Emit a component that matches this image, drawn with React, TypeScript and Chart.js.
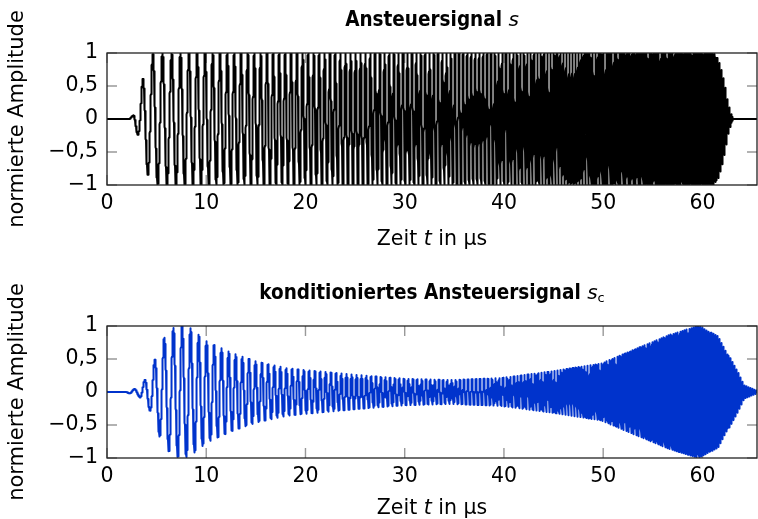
import React, { useEffect, useRef } from "react";
import { Chart, registerables } from "chart.js";

Chart.register(...registerables);

// ---- axis data ----
const X_MIN = 0;
const X_MAX = 65.5;
const xTickValues = [0, 10, 20, 30, 40, 50, 60];
const xTickLabels = ["0", "10", "20", "30", "40", "50", "60"];
const yTickValues = [-1, -0.5, 0, 0.5, 1];
const yTickLabels = ["\u22121", "\u22120,5", "0", "0,5", "1"];

// ---- chirp carrier: instantaneous frequency (MHz) read from cycle spacing ----
const freqTimes = [0, 3.5, 5.5, 9.4, 13, 17.4, 27.5, 37.7, 45, 52, 65.5];
const freqValues = [0.9, 0.95, 1.05, 1.25, 1.45, 1.65, 2.1, 2.5, 3.1, 3.9, 5.0];

// ---- top signal s: envelope ----
const topEnvTimes = [0, 2.2, 2.6, 3.2, 3.6, 4.2, 4.7, 61.2, 61.6, 62.0, 62.3, 62.6, 63.1, 65.5];
const topEnvValues = [0, 0, 0.05, 0.28, 0.6, 0.88, 1, 1, 0.89, 0.69, 0.49, 0.24, 0, 0];
const topPeakRef = 3.6; // time of a positive peak

// ---- bottom signal s_c: envelope ----
const botEnvTimes = [0, 1.8, 2.65, 3.25, 3.8, 4.3, 4.8, 5.2, 5.7, 6.7, 7.6, 8.4, 9.3, 10.1, 11.0, 12.6, 15.1, 18.1, 20, 25, 30, 34.6, 39.7, 44.7, 49.8, 53.1, 56.6, 59.6, 61.6, 62.6, 63.6, 64.2, 65.5];
const botEnvValues = [0, 0, 0.04, 0.07, 0.18, 0.27, 0.48, 0.64, 0.81, 0.97, 1.0, 0.97, 0.86, 0.76, 0.7, 0.59, 0.46, 0.36, 0.33, 0.26, 0.2, 0.18, 0.21, 0.31, 0.43, 0.64, 0.86, 1.0, 0.84, 0.56, 0.29, 0.1, 0.02];
const botPeakRef = 3.8;

const FONT = "'DejaVu Sans', sans-serif";

function interp(xs: number[], ys: number[], x: number): number {
  if (x <= xs[0]) return ys[0];
  if (x >= xs[xs.length - 1]) return ys[ys.length - 1];
  for (let i = 1; i < xs.length; i++) {
    if (x <= xs[i]) {
      const f = (x - xs[i - 1]) / (xs[i] - xs[i - 1]);
      return ys[i - 1] + f * (ys[i] - ys[i - 1]);
    }
  }
  return ys[ys.length - 1];
}

function buildSignal(envT: number[], envA: number[], tRef: number) {
  const dt = 0.004;
  const n = Math.round((X_MAX - X_MIN) / dt);
  const cum = new Float64Array(n + 1);
  for (let i = 1; i <= n; i++) {
    const tm = X_MIN + (i - 0.5) * dt;
    cum[i] = cum[i - 1] + interp(freqTimes, freqValues, tm) * dt;
  }
  const refIdx = Math.round((tRef - X_MIN) / dt);
  const pts: { x: number; y: number }[] = [];
  for (let i = 0; i <= n; i++) {
    const t = X_MIN + i * dt;
    const a = interp(envT, envA, t);
    pts.push({ x: t, y: a * Math.cos(2 * Math.PI * (cum[i] - cum[refIdx])) });
  }
  return pts;
}

type Seg = { text: string; font: string; dy?: number };

function drawSegs(ctx: CanvasRenderingContext2D, segs: Seg[], cx: number, baseline: number) {
  let total = 0;
  const widths = segs.map((s) => {
    ctx.font = s.font;
    const w = ctx.measureText(s.text).width;
    total += w;
    return w;
  });
  let x = cx - total / 2;
  ctx.textAlign = "left";
  ctx.textBaseline = "alphabetic";
  ctx.fillStyle = "#000";
  segs.forEach((s, i) => {
    ctx.font = s.font;
    ctx.fillText(s.text, x, baseline + (s.dy || 0));
    x += widths[i];
  });
}

function makeDecor(title: Seg[], titleBaseline: number, xTitleBaseline: number) {
  return {
    id: "decor",
    beforeDatasetsDraw(chart: any) {
      const { ctx, chartArea: a, scales } = chart;
      const L = 10;
      ctx.save();
      ctx.strokeStyle = "#999";
      ctx.lineWidth = 1.4;
      ctx.beginPath();
      xTickValues.forEach((v) => {
        const px = scales.x.getPixelForValue(v);
        ctx.moveTo(px, a.bottom);
        ctx.lineTo(px, a.bottom - L);
        ctx.moveTo(px, a.top);
        ctx.lineTo(px, a.top + L);
      });
      yTickValues.forEach((v) => {
        const py = scales.y.getPixelForValue(v);
        ctx.moveTo(a.left, py);
        ctx.lineTo(a.left + L, py);
        ctx.moveTo(a.right, py);
        ctx.lineTo(a.right - L, py);
      });
      ctx.stroke();
      ctx.restore();
    },
    afterDatasetsDraw(chart: any) {
      const { ctx, chartArea: a } = chart;
      ctx.save();
      ctx.strokeStyle = "#222";
      ctx.lineWidth = 1.3;
      ctx.strokeRect(a.left, a.top, a.right - a.left, a.bottom - a.top);
      ctx.restore();
    },
    afterDraw(chart: any) {
      const { ctx, chartArea: a } = chart;
      const cx = (a.left + a.right) / 2;
      ctx.save();
      drawSegs(ctx, title, cx, titleBaseline);
      drawSegs(
        ctx,
        [
          { text: "Zeit ", font: `20.5px ${FONT}` },
          { text: "t", font: `italic 20.5px ${FONT}` },
          { text: " in \u00b5s", font: `20.5px ${FONT}` },
        ],
        cx,
        xTitleBaseline
      );
      ctx.translate(22.5, (a.top + a.bottom) / 2);
      ctx.rotate(-Math.PI / 2);
      ctx.font = `21px ${FONT}`;
      ctx.textAlign = "center";
      ctx.textBaseline = "alphabetic";
      ctx.fillStyle = "#000";
      ctx.fillText("normierte Amplitude", 0, 0);
      ctx.restore();
    },
  };
}

function SignalChart(props: {
  width: number;
  height: number;
  top: number;
  plotTop: number;
  plotBottom: number;
  color: string;
  data: { x: number; y: number }[];
  title: Seg[];
  titleBaseline: number;
  xTitleBaseline: number;
}) {
  const ref = useRef<HTMLCanvasElement>(null);
  useEffect(() => {
    if (!ref.current) return;
    const chart = new Chart(ref.current, {
      type: "line",
      data: {
        datasets: [
          {
            data: props.data as any,
            borderColor: props.color,
            borderWidth: 2,
            borderJoinStyle: "round",
            borderCapStyle: "round",
            pointRadius: 0,
            tension: 0,
            fill: false,
          },
        ],
      },
      options: {
        animation: false,
        responsive: false,
        parsing: false,
        normalized: true,
        events: [],
        layout: { padding: { top: props.plotTop, right: 1, left: 0, bottom: 0 } },
        plugins: {
          legend: { display: false },
          tooltip: { enabled: false },
          title: { display: false },
        },
        scales: {
          x: {
            type: "linear",
            min: X_MIN,
            max: X_MAX,
            grid: { display: false, drawTicks: false },
            border: { display: false },
            afterBuildTicks: (s: any) => {
              s.ticks = xTickValues.map((v) => ({ value: v }));
            },
            afterFit: (s: any) => {
              s.height = props.height - props.plotBottom;
            },
            ticks: {
              autoSkip: false,
              maxRotation: 0,
              padding: 6,
              color: "#000",
              font: { family: FONT, size: 20.5 },
              callback: (v: any) => xTickLabels[xTickValues.indexOf(Number(v))] ?? "",
            },
          },
          y: {
            min: -1,
            max: 1,
            grid: { display: false, drawTicks: false },
            border: { display: false },
            afterBuildTicks: (s: any) => {
              s.ticks = yTickValues.map((v) => ({ value: v }));
            },
            afterFit: (s: any) => {
              s.width = 107;
            },
            ticks: {
              autoSkip: false,
              padding: 9,
              color: "#000",
              font: { family: FONT, size: 20.5 },
              callback: (v: any) => yTickLabels[yTickValues.indexOf(Number(v))] ?? "",
            },
          },
        },
      },
      plugins: [makeDecor(props.title, props.titleBaseline, props.xTitleBaseline)],
    } as any);
    return () => chart.destroy();
  }, []);
  return (
    <canvas
      ref={ref}
      width={props.width}
      height={props.height}
      style={{ position: "absolute", left: 0, top: props.top, width: props.width, height: props.height }}
    />
  );
}

export default function App() {
  const topData = buildSignal(topEnvTimes, topEnvValues, topPeakRef);
  const botData = buildSignal(botEnvTimes, botEnvValues, botPeakRef);
  const bold = `bold 20.5px 'DejaVu Sans Condensed', ${FONT}`;
  return (
    <div style={{ position: "fixed", left: 0, top: 0, width: 758, height: 519, background: "#fff" }}>
      <SignalChart
        width={758}
        height={260}
        top={0}
        plotTop={53}
        plotBottom={185}
        color="#000000"
        data={topData}
        title={[
          { text: "Ansteuersignal ", font: bold },
          { text: "s", font: `italic 20px ${FONT}` },
        ]}
        titleBaseline={26}
        xTitleBaseline={245}
      />
      <SignalChart
        width={758}
        height={259}
        top={260}
        plotTop={66}
        plotBottom={198}
        color="#0033cc"
        data={botData}
        title={[
          { text: "konditioniertes Ansteuersignal ", font: bold },
          { text: "s", font: `italic 20px ${FONT}` },
          { text: "c", font: `13px ${FONT}`, dy: 3 },
        ]}
        titleBaseline={39}
        xTitleBaseline={254}
      />
    </div>
  );
}
